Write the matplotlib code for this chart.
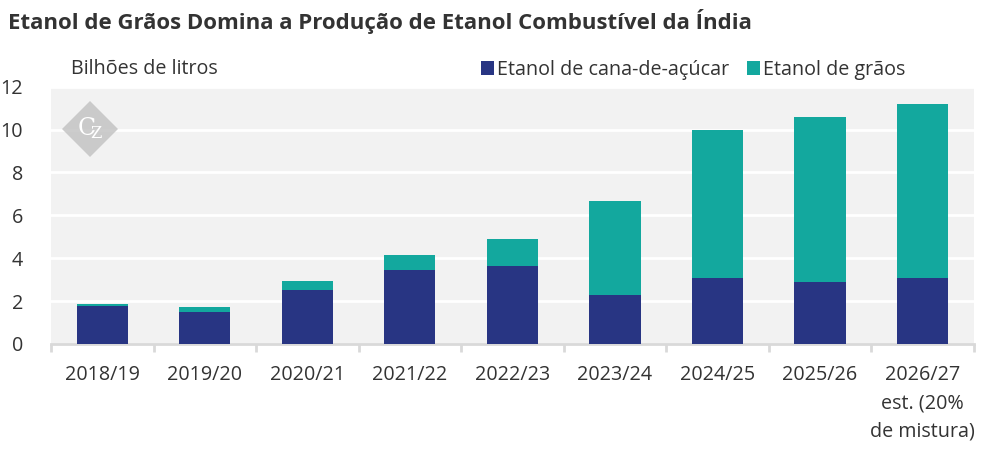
import numpy as np
import matplotlib.pyplot as plt
from matplotlib.patches import RegularPolygon

plt.rcParams["font.family"] = ["Open Sans", "DejaVu Sans"]
plt.rcParams["mathtext.fontset"] = "dejavuserif"

seasons = ["2018/19", "2019/20", "2020/21", "2021/22", "2022/23",
           "2023/24", "2024/25", "2025/26", "2026/27\nest. (20%\nde mistura)"]
sugarcane = [1.76, 1.51, 2.50, 3.43, 3.62, 2.27, 3.10, 2.87, 3.06]
total = [1.85, 1.71, 2.92, 4.17, 4.92, 6.67, 9.97, 10.57, 11.19]
grain = [t - s for t, s in zip(total, sugarcane)]

navy = "#283583"
teal = "#13a89e"
text_col = "#333333"
fs = 14.2

fig = plt.figure(figsize=(10, 4.54), dpi=100)
ax = fig.add_axes([0.051, 0.2423, 0.9227, 0.5667])
ax.set_facecolor("#f2f2f2")

x = np.arange(len(seasons))
ax.bar(x, sugarcane, width=0.5, color=navy, label="Etanol de cana-de-açúcar", zorder=3)
ax.bar(x, grain, width=0.5, bottom=sugarcane, color=teal, label="Etanol de grãos", zorder=3)

ax.set_xlim(-0.5, len(seasons) - 0.5)
ax.set_ylim(0, 12)
ax.set_yticks(range(0, 13, 2))
ax.grid(axis="y", color="white", linewidth=2, zorder=1)
ax.set_axisbelow(True)

for side in ["top", "right", "left"]:
    ax.spines[side].set_visible(False)
ax.spines["bottom"].set_color("#d9d9d9")
ax.spines["bottom"].set_linewidth(2)

ax.set_xticks(x)
ax.set_xticklabels(seasons, fontsize=fs, color=text_col, linespacing=1.55)
ax.set_xticks(np.arange(-0.5, len(seasons)), minor=True)
ax.tick_params(axis="x", which="major", length=0, pad=15)
ax.tick_params(axis="x", which="minor", length=6, width=2, color="#d9d9d9")
ax.tick_params(axis="y", length=0, pad=20, labelsize=fs, labelcolor=text_col)

# watermark logo
logo = RegularPolygon((90, 454 - 129), numVertices=4, radius=28, orientation=0,
                      transform=None, facecolor="#c4c4c4", alpha=0.85,
                      edgecolor="none", zorder=4)
fig.patches.append(logo)
fig.text(0.09, 1 - 128 / 454, r"$\mathrm{C}_{\!\!\mathrm{Z}}$", fontsize=17,
         color="white", ha="center", va="center", zorder=5)

fig.text(0.008, 1 - 22 / 454,
         "Etanol de Grãos Domina a Produção de Etanol Combustível da Índia",
         fontsize=16, fontweight="bold", color=text_col, va="center")
fig.text(0.071, 1 - 69 / 454, "Bilhões de litros", fontsize=fs,
         color=text_col, va="center")

ax.legend(loc="center right", bbox_to_anchor=(0.915, 1 - 70 / 454),
          bbox_transform=fig.transFigure, ncol=2, frameon=False,
          fontsize=fs, handlelength=0.65, handleheight=0.65,
          handletextpad=0.15, columnspacing=0.9, borderpad=0,
          labelcolor=text_col)

fig.savefig("out.png", dpi=100)
